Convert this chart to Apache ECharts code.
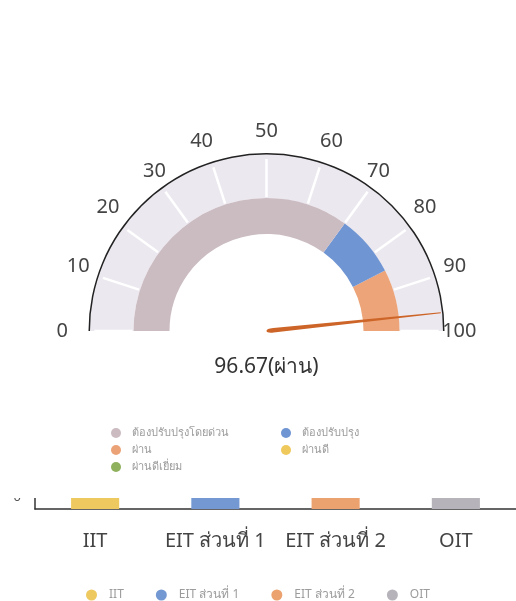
<!DOCTYPE html>
<html>
<head>
<meta charset="utf-8">
<title>ITA</title>
<script src="https://cdn.jsdelivr.net/npm/echarts@6/dist/echarts.min.js"></script>
<style>
  html, body { margin: 0; padding: 0; background: #fff; }
  #main { width: 516px; height: 601px; }
</style>
</head>
<body>
<div id="main"></div>
<script>
// คะแนนรวม (gauge)
var gaugeValue = 96.67;
var gaugeLevel = 'ผ่าน';
var gaugeMin = 0;
var gaugeMax = 100;
var gaugeSplits = 10; // 0,10,...,100

// ระดับผลการประเมิน (legend)
var levelNames = ['ต้องปรับปรุงโดยด่วน', 'ต้องปรับปรุง', 'ผ่าน', 'ผ่านดี', 'ผ่านดีเยี่ยม'];
var levelColors = ['#cbbbc1', '#7095d3', '#eba277', '#efc95c', '#8fb05c'];

// coloured inner band: upper bound (fraction of axis) + colour
var bandStops = [0.70, 0.85, 1];
var bandColors = ['#cbbcc2', '#7095d3', '#eca478'];

// bar chart (bottom)
var categories = ['IIT', 'EIT ส่วนที่ 1', 'EIT ส่วนที่ 2', 'OIT'];
var barValues = [97.42, 95.83, 96.25, 97.5];
var barColors = ['#eec95f', '#7398d2', '#eca26f', '#b7b3ba'];

var FONT = 'Noto Sans, sans-serif';
var CX = 266.5, CY = 331;

var chart = echarts.init(document.getElementById('main'));

// gauge base options
function gaugeBase(radius) {
  return {
    type: 'gauge',
    center: [CX, CY],
    radius: radius,
    startAngle: 180,
    endAngle: 0,
    min: gaugeMin,
    max: gaugeMax,
    splitNumber: gaugeSplits,
    axisTick: { show: false },
    splitLine: { show: false },
    axisLabel: { show: false },
    pointer: { show: false },
    anchor: { show: false },
    title: { show: false },
    detail: { show: false },
    silent: true,
    data: [{ value: gaugeValue }]
  };
}

var lightBand = gaugeBase(177);
lightBand.axisLine = { lineStyle: { width: 44, color: [[1, '#ece8ef']] } };
lightBand.splitLine = { show: true, length: 38, distance: -39, lineStyle: { color: '#fff', width: 2.5 } };

var innerBand = gaugeBase(133);
innerBand.axisLine = {
  lineStyle: {
    width: 36,
    color: bandStops.map(function (s, i) { return [s, bandColors[i]]; })
  }
};

var outerLine = gaugeBase(178);
outerLine.axisLine = { lineStyle: { width: 1.5, color: [[1, '#222']] } };

var labelGauge = gaugeBase(177);
labelGauge.axisLine = { show: false, lineStyle: { width: 0 } };
labelGauge.splitLine = { show: false, length: 0, distance: 0 };
labelGauge.axisLabel = { show: true, distance: -33, fontSize: 20, color: '#444', fontFamily: FONT };
labelGauge.pointer = {
  show: true,
  icon: 'path://M1.6,0 L2.4,0 L4,96 Q4,100 2,100 Q0,100 0,96 Z',
  length: '99%',
  width: 4.5,
  itemStyle: { color: '#cd6428' }
};
labelGauge.detail = {
  show: true,
  offsetCenter: [0, 36],
  fontSize: 21,
  fontWeight: 'normal',
  color: '#333',
  fontFamily: FONT,
  formatter: function (v) { return v.toFixed(2) + '(' + gaugeLevel + ')'; }
};

// legend-only series for the level colours
var levelSeries = levelNames.map(function (n, i) {
  return { type: 'line', name: n, data: [], itemStyle: { color: levelColors[i] } };
});

var barSeries = categories.map(function (c, i) {
  return {
    type: 'bar',
    name: c,
    stack: 'ita',
    barWidth: '40%',
    z: 0,
    itemStyle: { color: barColors[i] },
    data: categories.map(function (_, j) { return j === i ? barValues[i] : '-'; })
  };
});

chart.setOption({
  backgroundColor: '#fff',
  animation: false,
  textStyle: { fontFamily: FONT },
  legend: [{
    data: levelNames,
    left: 106,
    top: 422,
    width: 350,
    icon: 'circle',
    itemWidth: 22,
    itemHeight: 10,
    itemGap: 5,
    textStyle: { fontSize: 11, color: '#9c9c9c', width: 144, lineHeight: 12 }
  }, {
    data: categories,
    left: 'center',
    top: 584,
    icon: 'circle',
    itemWidth: 25,
    itemHeight: 11,
    itemGap: 32,
    textStyle: { fontSize: 12, color: '#9c9c9c' }
  }],
  grid: { left: 35, right: 0, top: 200, bottom: 92, outerBoundsMode: 'none' },
  xAxis: {
    type: 'category',
    data: categories,
    axisLine: { lineStyle: { color: '#333', width: 1.5 } },
    axisTick: { show: false },
    axisLabel: { fontSize: 20, color: '#444', margin: 22, interval: 0 }
  },
  yAxis: {
    type: 'value',
    min: 0,
    max: 100,
    interval: 20,
    axisLine: { show: true, lineStyle: { color: '#333', width: 1.5 } },
    axisTick: { show: false },
    splitLine: { show: false },
    axisLabel: { fontSize: 13, color: '#555', margin: 14, verticalAlign: 'bottom', padding: [0, 0, 5, 0] }
  },
  // the bar chart is only seen below the cut line
  graphic: [{
    type: 'rect',
    left: 0,
    top: 0,
    z: 1,
    silent: true,
    shape: { width: 516, height: 498 },
    style: { fill: '#fff' }
  }],
  series: [lightBand, innerBand, outerLine, labelGauge].concat(levelSeries, barSeries)
});
</script>
</body>
</html>
